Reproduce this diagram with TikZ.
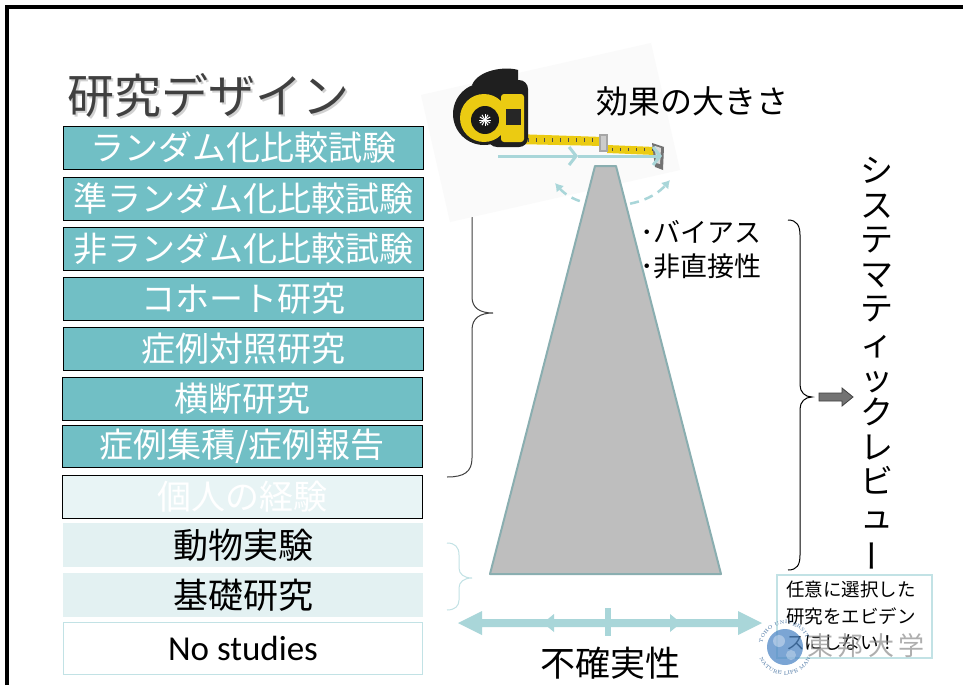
\documentclass[tikz,border=0pt]{standalone}
\usepackage{fontspec}
\usepackage{graphicx}
\usetikzlibrary{arrows.meta,decorations.text}
\newfontfamily\jp{Noto Sans CJK JP}
\newfontfamily\lat{Carlito}
\definecolor{teal1}{HTML}{71BFC5}
\definecolor{pale}{HTML}{E3F1F2}
\definecolor{paleb}{HTML}{E8F4F5}
\definecolor{edge}{HTML}{C2E2E5}
\definecolor{arrowc}{HTML}{A9D6D9}
\definecolor{pyrfill}{HTML}{BEBEBE}
\definecolor{pyredge}{HTML}{8AAEB0}
\definecolor{tapey}{HTML}{EBCB12}
\definecolor{titlec}{HTML}{404040}
\definecolor{logob}{HTML}{4F88C6}
\tikzset{
  design/.style={draw=black, line width=0.9pt, fill=teal1, minimum width=360pt,
    minimum height=43pt, inner sep=0pt, text=white, font=\jp\fontsize{34}{36}\selectfont},
  lowbox/.style={fill=pale, minimum width=360pt, minimum height=44pt, inner sep=0pt,
    text=black, font=\jp\fontsize{35}{37}\selectfont},
  plain/.style={inner sep=0pt, text=black},
  brace/.style={line width=1pt},
  flow/.style={arrowc, line width=3pt},
}
\begin{document}
\begin{tikzpicture}[x=1pt,y=-1pt]
\useasboundingbox (0,0) rectangle (963,685);
\fill[white] (0,0) rectangle (963,685);

% slide frame
\draw[line width=4pt] (7,685) -- (7,7) -- (963,7);

% title with soft shadow
\node[plain, text=black!18, font=\jp\fontsize{47}{50}\selectfont, anchor=west] at (69,97) {研究デザイン};
\node[plain, text=titlec, font=\jp\fontsize{47}{50}\selectfont, anchor=west] (title) at (67,95) {研究デザイン};

% study designs
\node[design] (d1) at (243,147.5) {ランダム化比較試験};
\node[design] (d2) at (243,198.5) {準ランダム化比較試験};
\node[design] (d3) at (243,248.5) {非ランダム化比較試験};
\node[design] (d4) at (243,298.5) {コホート研究};
\node[design] (d5) at (243,348.5) {症例対照研究};
\node[design] (d6) at (242,398.5) {横断研究};
\node[design, minimum height=42pt] (d7) at (242,446) {症例集積/症例報告};
\node[design, fill=paleb] (d8) at (242,496.5) {個人の経験};
\node[lowbox] (d9) at (243,545) {動物実験};
\node[lowbox] (d10) at (243,595) {基礎研究};
\node[draw=edge, line width=1.2pt, fill=white, minimum width=359pt, minimum height=52pt,
  inner sep=0pt, font=\lat\fontsize{35}{37}\selectfont] (d11) at (243,648.5) {No studies};

% braces
\draw[brace, black!75] (447,150) .. controls (464,150) and (472,155) .. (472,170)
  -- (472,297) .. controls (472,308) and (480,313) .. (493,313)
  .. controls (480,313) and (472,318) .. (472,330)
  -- (472,458) .. controls (472,472) and (464,477) .. (447,477);
\draw[brace, edge] (447,543) .. controls (455,543) and (459,547) .. (459,555)
  -- (459,568) .. controls (459,574) and (464,578) .. (472,578)
  .. controls (464,578) and (459,582) .. (459,588)
  -- (459,600) .. controls (459,606) and (455,610) .. (447,610);
\draw[brace, black] (788,220) .. controls (797,220) and (800,226) .. (800,235)
  -- (800,385) .. controls (800,392) and (805,397) .. (812,397)
  .. controls (805,397) and (800,402) .. (800,409)
  -- (800,555) .. controls (800,565) and (797,570) .. (788,570);

% tape measure photo
\fill[black!2] (421,95) -- (651,43) -- (680,170) -- (450,222) -- cycle;
\fill[tapey] (515,134) -- (603,137) -- (603,146) -- (515,144) -- cycle;
\foreach \i in {0,...,10} {\draw[black!70, line width=0.6pt] (520+8*\i,138.2+0.03*\i) -- (520+8*\i,141.5+0.03*\i);}
\fill[tapey] (607,145) -- (655,147) -- (655,155) -- (607,153) -- cycle;
\foreach \i in {0,...,5} {\draw[black!70, line width=0.6pt] (612+8*\i,148) -- (612+8*\i,151);}
\fill[black!35] (599,134) rectangle (608,152);
\fill[black!20] (601,136) rectangle (606,150);
\fill[black!55] (652,143) -- (664,147) -- (663,170) -- (655,167) -- cycle;
\fill[black!15] (655,146) -- (661,148) -- (660,164) -- (656,163) -- cycle;
% case
\fill[black!88] (484,114) circle (31);
\fill[black!88, rounded corners=9pt] (488,80) rectangle (528,147);
\fill[black!88] (472,85) .. controls (478,70) and (505,66) .. (518,70) -- (518,84) -- cycle;
\fill[tapey] (484,118) circle (24);
\fill[black!90] (485,120) circle (14);
\foreach \a in {0,30,...,150} {\draw[white, line width=1pt] (485,120) ++(\a:6) -- ++(\a+180:12);}
\fill[tapey, rounded corners=3pt] (501,94) rectangle (524,142);
\fill[black!85] (506,109) rectangle (521,125);

% size-of-effect arrows
\coordinate (m0) at (498,156);
\coordinate (m1) at (578,156);
\coordinate (m2) at (662,156);
\draw[flow, -{Straight Barb[length=7pt,width=18pt]}] (m0) -- (m1);
\draw[flow, -{Straight Barb[length=7pt,width=18pt]}] (m1) -- (m2);

% wobble around the apex
\coordinate (w0) at (555,183);
\coordinate (w1) at (670,180);
\draw[arrowc, line width=2.5pt, dash pattern=on 9pt off 6pt,
  {Latex[length=8pt,width=10pt]}-{Latex[length=8pt,width=10pt]}]
  (w0) .. controls (580,212) and (642,212) .. (w1);

% evidence pyramid
\draw[fill=pyrfill, draw=pyredge, line width=2pt, line join=round]
  (595,166) -- (616,166) -- (721,574) -- (490,574) -- cycle;
\coordinate (apex) at (605,166);

% labels
\node[plain, font=\jp\fontsize{32}{34}\selectfont] (effect) at (692,101) {効果の大きさ};
\node[plain, font=\jp\fontsize{27}{34}\selectfont, align=left, anchor=west] (bias) at (640,249.5) {･バイアス\\･非直接性};
\node[plain, font=\jp\fontsize{35}{37}\selectfont] (unc) at (610,663) {不確実性};

% uncertainty axis
\fill[arrowc] (482,619) -- (738,619) -- (738,611) -- (762,623) -- (738,635) -- (738,627)
  -- (482,627) -- (482,635) -- (458,623) -- (482,611) -- cycle;
\fill[arrowc] (543,623) -- (554,614) -- (554,632) -- cycle;
\fill[arrowc] (681,623) -- (670,614) -- (670,632) -- cycle;
\fill[arrowc] (605,608) rectangle (611,636);

% systematic review
\fill[black!55, draw=black!75, line width=0.8pt] (819,393) -- (842,393) -- (842,388) -- (853,397)
  -- (842,406) -- (842,401) -- (819,401) -- cycle;
\node[plain, font=\jp\fontsize{33}{34.6}\selectfont, align=center, anchor=north] (sr) at (877,157)
  {シ\\ス\\テ\\マ\\テ\\ィ\\ッ\\ク\\レ\\ビ\\ュ\\\rotatebox[origin=c]{90}{ー}};

% note box
\node[draw=edge, line width=1.2pt, fill=white, minimum width=155pt, minimum height=83pt,
  inner sep=0pt] (note) at (854.5,616.5) {};
\node[plain, font=\jp\fontsize{18.5}{26.5}\selectfont, align=left, anchor=north west] (notetxt) at (786,581)
  {任意に選択した\\研究をエビデン\\スにしない！};

% university mark
\fill[logob, opacity=0.75] (785,647) circle (18);
\fill[white, opacity=0.35] (779,641) circle (6);
\fill[white, opacity=0.3] (791,655) circle (5);
\path[decorate, decoration={text along path, text align=center,
  text={|\fontsize{5}{5}\selectfont\color{logob!80!black}|TOHO UNIVERSITY}}]
  (785,647) ++(200:23) arc[start angle=200, end angle=340, radius=23];
\path[decorate, decoration={text along path, text align=center,
  text={|\fontsize{5}{5}\selectfont\color{logob!80!black}|NATURE LIFE MAN}}]
  (785,647) ++(160:28) arc[start angle=160, end angle=20, radius=28];
\node[plain, text=black!45, opacity=0.7, font=\jp\fontsize{26}{28}\selectfont] (univ) at (866,646) {東\,邦\,大\,学};
\end{tikzpicture}
\end{document}
